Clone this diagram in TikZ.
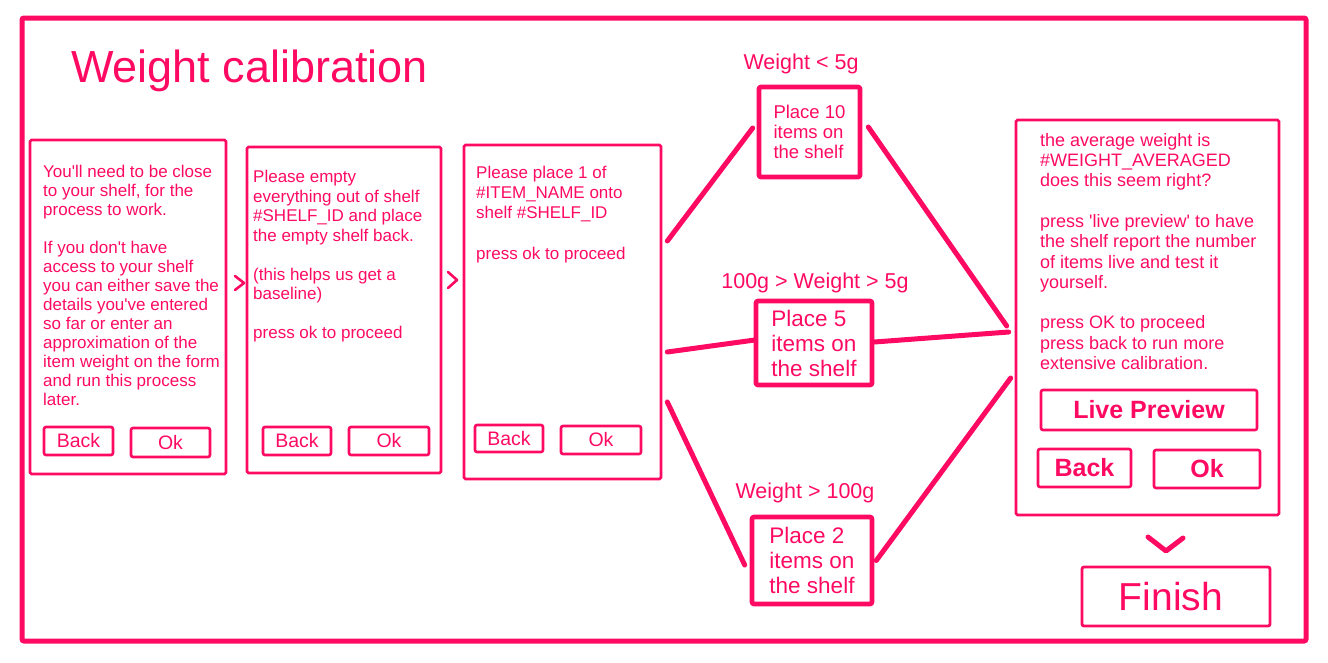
\documentclass[tikz,border=0pt]{standalone}
\usepackage{fontspec}
\setmainfont{Liberation Sans}
\usetikzlibrary{calc}
\definecolor{pk}{HTML}{FF0A62}
\newcommand{\fs}[2]{\fontsize{#1}{#2}\selectfont}
\newcommand{\sq}{\textquotesingle}
\tikzset{
  panel/.style={draw=pk, line width=2.6pt, rectangle, rounded corners=1.5pt, inner sep=0pt},
  btn/.style={draw=pk, line width=2.6pt, rectangle, rounded corners=2pt, inner sep=0pt, text=pk, font=\fs{19.5}{22}},
  bbtn/.style={draw=pk, line width=2.6pt, rectangle, rounded corners=2pt, inner sep=0pt, text=pk, font=\bfseries\fs{25}{28}},
  bbox/.style={draw=pk, line width=4.6pt, rectangle, rounded corners=2pt, inner sep=0pt, text=pk, align=left},
  conn/.style={draw=pk, line width=5pt, line cap=round},
  chev/.style={draw=pk, line width=2.6pt, line cap=round, line join=round},
  txt/.style={text=pk, anchor=north west, align=left, inner sep=0pt},
  lbl/.style={text=pk, inner sep=0pt, font=\fs{21.5}{24}}
}
\begin{document}
\begin{tikzpicture}[x=1pt, y=-1pt]
\useasboundingbox (0,0) rectangle (1328,662);
% outer frame
\node[draw=pk, line width=5pt, rounded corners=2pt, minimum width=1284pt, minimum height=623pt, inner sep=0pt] (frame) at (664,329.5) {};
\node[text=pk, anchor=base west, inner sep=0pt, font=\fs{45}{50}] (title) at (71,82) {Weight calibration};

% panel 1
\node[panel, minimum width=196pt, minimum height=334pt] (p1) at (128,307) {};
\node[txt, font=\fs{17}{19}] (t1) at (43,164.5) {You\sq ll need to be close\\to your shelf, for the\\process to work.\\[19pt]If you don\sq t have\\access to your shelf\\you can either save the\\details you\sq ve entered\\so far or enter an\\approximation of the\\item weight on the form\\and run this process\\later.};
\node[btn, minimum width=69pt, minimum height=28pt] (p1back) at (78.5,441) {Back};
\node[btn, minimum width=79pt, minimum height=29pt] (p1ok) at (170.5,442.5) {Ok};

% panel 2
\node[panel, minimum width=194pt, minimum height=326pt] (p2) at (344,310) {};
\node[txt, font=\fs{17}{19.5}] (t2) at (253,170) {Please empty\\everything out of shelf\\\#SHELF\_ID and place\\the empty shelf back.\\[19.5pt](this helps us get a\\baseline)\\[19.5pt]press ok to proceed};
\node[btn, minimum width=68pt, minimum height=28pt] (p2back) at (297,441) {Back};
\node[btn, minimum width=80pt, minimum height=28pt] (p2ok) at (389,441) {Ok};

% panel 3
\node[panel, minimum width=197pt, minimum height=334pt] (p3) at (562.5,312) {};
\node[txt, font=\fs{17}{20}] (t3) at (476,166) {Please place 1 of\\\#ITEM\_NAME onto\\shelf \#SHELF\_ID\\[21pt]press ok to proceed};
\node[btn, minimum width=68pt, minimum height=27pt] (p3back) at (509,438.5) {Back};
\node[btn, minimum width=80pt, minimum height=28pt] (p3ok) at (601,440) {Ok};

% chevrons between panels
\draw[chev] (235,276) -- (244,283) -- (235,290);
\draw[chev] (448,272) -- (457,280) -- (448,288);

% branch boxes
\node[bbox, minimum width=101pt, minimum height=90pt, font=\fs{18.5}{20}] (b1) at (809.5,132) {Place 10\\items on\\the shelf};
\node[bbox, minimum width=116pt, minimum height=84pt, font=\fs{22.5}{25}] (b2) at (814,343) {Place 5\\items on\\the shelf};
\node[bbox, minimum width=120pt, minimum height=87pt, font=\fs{22.5}{25}] (b3) at (812,560.5) {Place 2\\items on\\the shelf};
\node[lbl] (l1) at (801,64) {Weight < 5g};
\node[lbl] (l2) at (815,283) {100g > Weight > 5g};
\node[lbl] (l3) at (805,493) {Weight > 100g};

% right panel
\node[panel, minimum width=263pt, minimum height=395pt] (pr) at (1147.5,317.5) {};
\node[txt, font=\fs{18}{20.3}] (tr) at (1040,133) {the average weight is\\\#WEIGHT\_AVERAGED\\does this seem right?\\[20.3pt]press \sq live preview\sq\ to have\\the shelf report the number\\of items live and test it\\yourself.\\[20.3pt]press OK to proceed\\press back to run more\\extensive calibration.};
\node[bbtn, minimum width=216pt, minimum height=40pt] (live) at (1149,410) {Live Preview};
\node[bbtn, minimum width=93pt, minimum height=38pt] (prback) at (1084.5,468) {Back};
\node[bbtn, minimum width=106pt, minimum height=38pt] (prok) at (1207,469) {Ok};

% connectors
\draw[conn] ([xshift=5pt,yshift=71pt]p3.east) -- ([xshift=-4pt,yshift=4pt]b1.west);
\draw[conn] ([xshift=6pt,yshift=5pt]b1.east) -- ([xshift=-8pt,yshift=-8.5pt]pr.west);
\draw[conn] ([xshift=5pt,yshift=-40pt]p3.east) -- ([xshift=1pt,yshift=3pt]b2.west);
\draw[conn] ([xshift=0pt,yshift=1pt]b2.east) -- ([xshift=-6pt,yshift=-14.5pt]pr.west);
\draw[conn] ([xshift=5pt,yshift=-90pt]p3.east) -- ([xshift=-5pt,yshift=-4.5pt]b3.west);
\draw[conn] ([xshift=2pt,yshift=0pt]b3.east) -- ([xshift=-4pt,yshift=-60.5pt]pr.west);

% finish
\draw[chev, line width=5pt] (1148,537) -- (1166,551) -- (1183,538);
\node[draw=pk, line width=2.8pt, rounded corners=2pt, inner sep=0pt, minimum width=188pt, minimum height=59pt, text=pk, font=\fs{39}{42}] (fin) at (1176,596.5) {\hspace*{-10pt}Finish};
\end{tikzpicture}
\end{document}
